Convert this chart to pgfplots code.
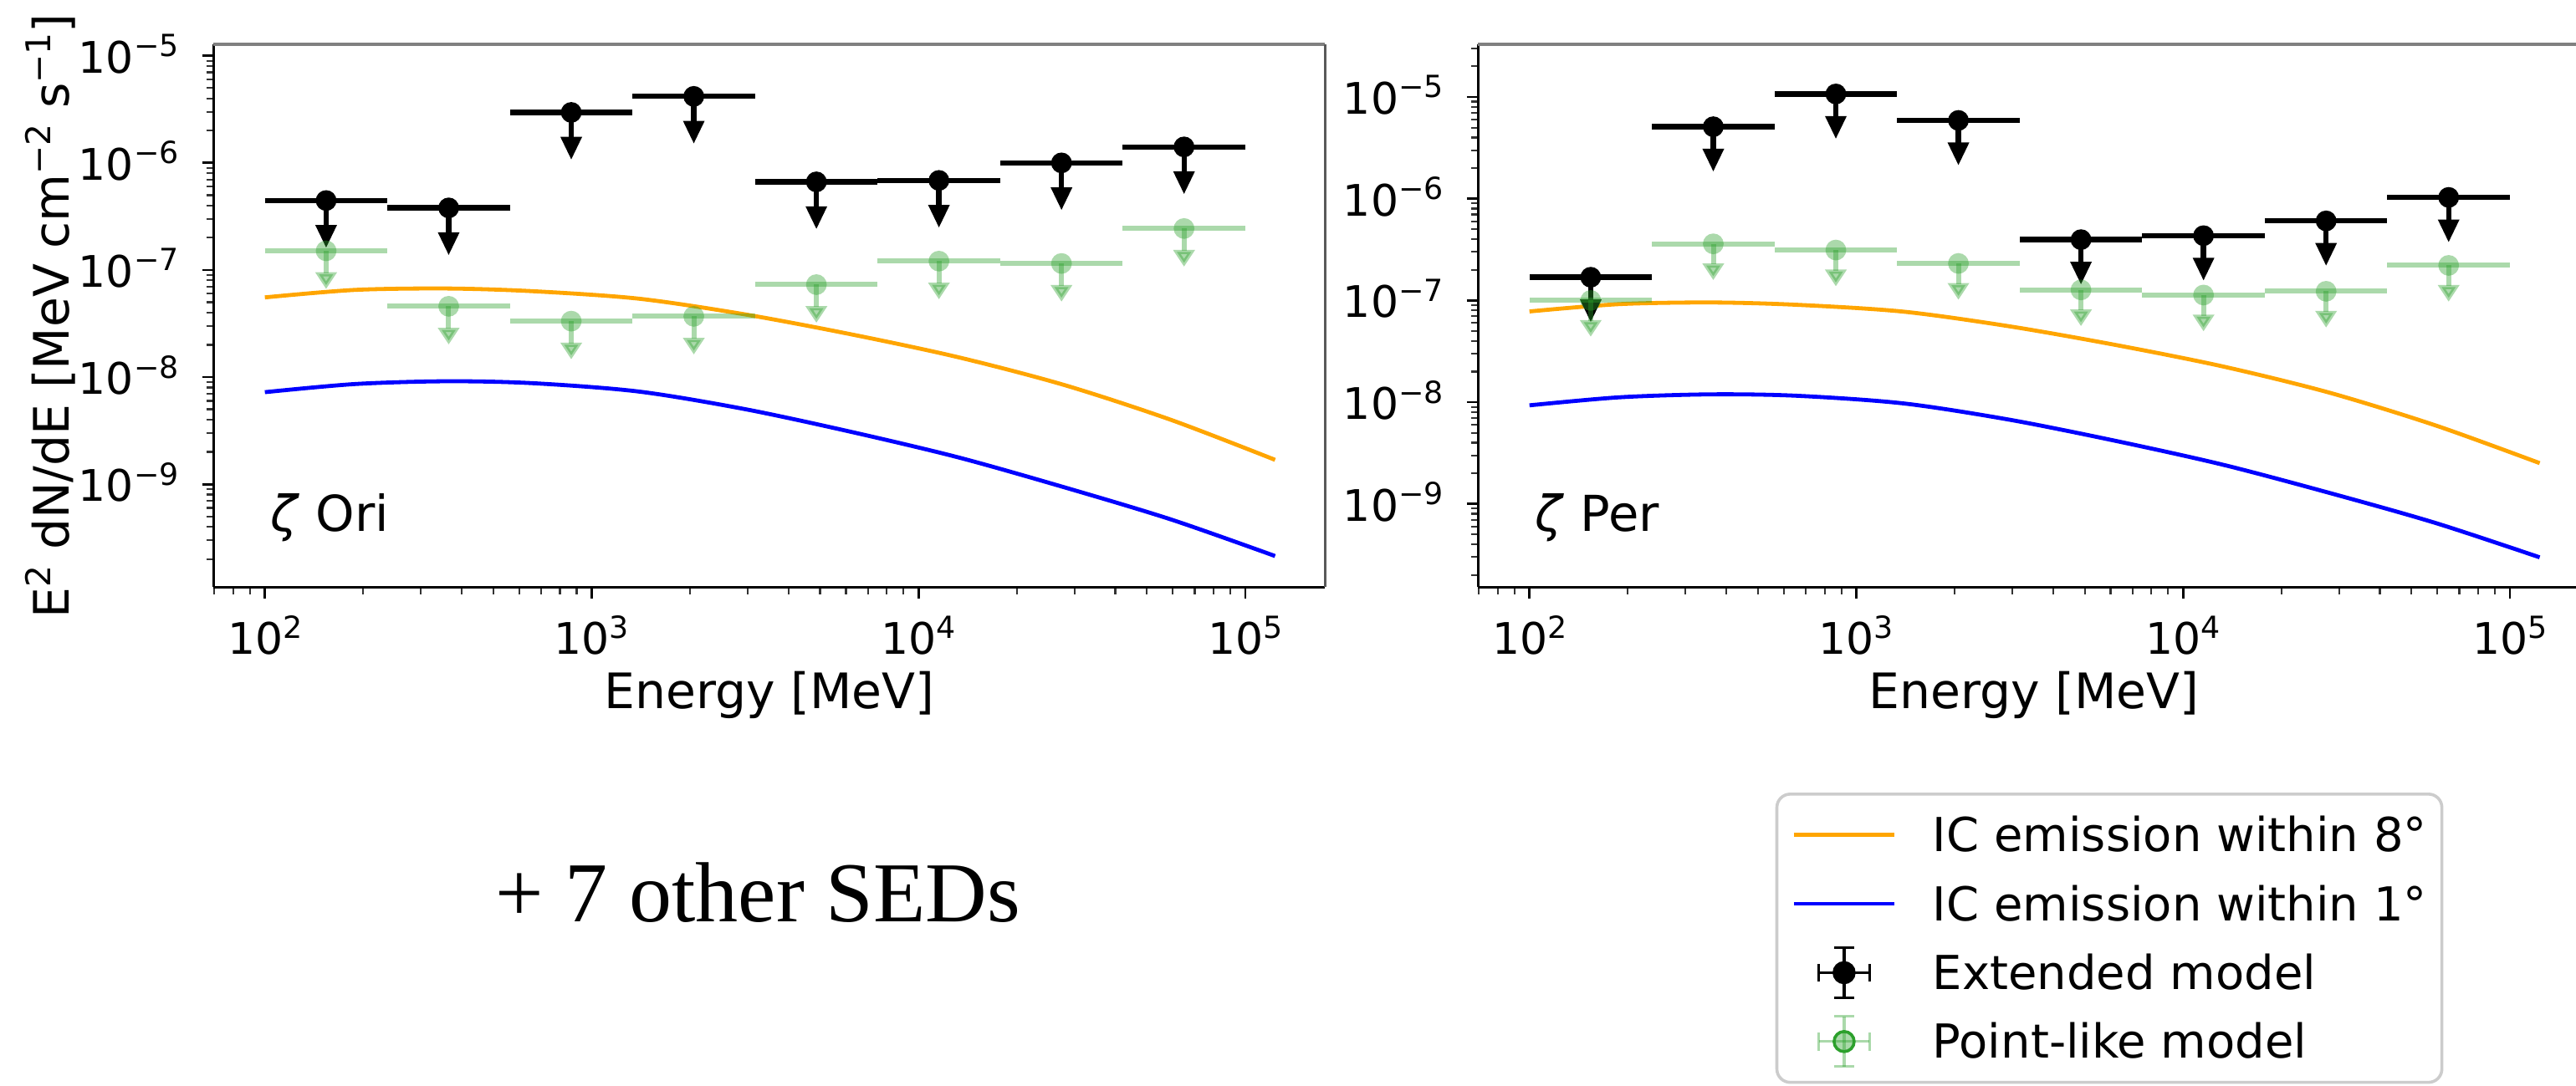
\documentclass[border=0pt]{standalone}
\usepackage{fontspec}
\setmainfont{DejaVu Sans}
\newfontfamily\serifface{Liberation Serif}
\usepackage{pgfplots}
\usepackage{pgfplotstable}
\pgfplotsset{compat=1.18}
\usetikzlibrary{arrows.meta}

\definecolor{icorange}{HTML}{FFA500}
\definecolor{icblue}{HTML}{0000FF}
\definecolor{ptgreen}{HTML}{2CA02C}

% power-of-ten tick labels and superscripts in the text font
\newcommand{\tp}[1]{10\raisebox{4.9pt}{\fontsize{9.1pt}{10pt}\selectfont #1}}
\newcommand{\su}[1]{\raisebox{5.4pt}{\fontsize{10.2pt}{11pt}\selectfont #1}}

% SED points: bin centre, distance to lower / upper bin edge, upper limits
\pgfplotstableread{
x        xm        xp        ext       pnt
153.99   53.99     83.15     4.45e-7   1.51e-7
365.17   128.03    197.17    3.80e-7   4.58e-8
865.96   303.61    467.56    2.96e-6   3.33e-8
2053.5   719.98    1108.76   4.18e-6   3.69e-8
4869.7   1707.4    2629.3    6.65e-7   7.30e-8
11548    4048.7    6235.0    6.86e-7   1.21e-7
27384    9601.2    14785.6   1.00e-6   1.15e-7
64938    22768     35062     1.41e-6   2.44e-7
}\oriSED
\pgfplotstableread{
x        xm        xp        ext       pnt
153.99   53.99     83.15     1.69e-7   1.00e-7
365.17   128.03    197.17    5.10e-6   3.60e-7
865.96   303.61    467.56    1.07e-5   3.13e-7
2053.5   719.98    1108.76   5.88e-6   2.31e-7
4869.7   1707.4    2629.3    3.96e-7   1.27e-7
11548    4048.7    6235.0    4.33e-7   1.13e-7
27384    9601.2    14785.6   6.05e-7   1.23e-7
64938    22768     35062     1.03e-6   2.21e-7
}\perSED

% IC model curves (within 8 deg and within 1 deg)
\pgfplotstableread{
E        ic8        ic1
100      5.546e-8   7.228e-9
188.8    6.516e-8   8.610e-9
361.4    6.714e-8   9.141e-9
659.2    6.339e-8   8.770e-9
1393     5.395e-8   7.328e-9
2951     3.846e-8   5.012e-9
6252     2.500e-8   3.069e-9
13243    1.531e-8   1.778e-9
27990    8.414e-9   9.333e-10
59293    3.981e-9   4.677e-10
123310   1.687e-9   2.133e-10
}\oriIC
\pgfplotstableread{
E        ic8        ic1
100      7.798e-8   9.311e-9
188.8    9.204e-8   1.117e-8
361.4    9.550e-8   1.194e-8
659.2    9.057e-8   1.156e-8
1393     7.762e-8   9.727e-9
2951     5.559e-8   6.714e-9
6252     3.639e-8   4.150e-9
13243    2.244e-8   2.427e-9
27990    1.242e-8   1.285e-9
59293    5.902e-9   6.486e-10
123310   2.518e-9   2.985e-10
}\perIC

% invisible carrier marks for plots that only draw error bars
\pgfplotsset{barsonly/.style={only marks, mark=*, forget plot,
  mark options={draw opacity=0, fill opacity=0}}}

% one SED panel: curves, upper limits with bin widths, star label
\newcommand{\sedpanel}[3]{%
  \addplot[icorange, line width=1.2pt, smooth] table[x=E, y=ic8] {#2};
  \addplot[icblue, line width=1.2pt, smooth] table[x=E, y=ic1] {#2};
  % extended model
  \addplot[black, barsonly,
    error bars/y dir=minus, error bars/y fixed relative=0.64, error bars/error mark=none,
    error bars/error bar style={black, line width=1.6pt, -{Triangle[length=6.9pt, width=6pt]}}]
    table[x=x, y=ext] {#1};
  \addplot[black, barsonly,
    error bars/x dir=both, error bars/x explicit, error bars/error mark=none,
    error bars/error bar style={black, line width=1.6pt}]
    table[x=x, y=ext, x error minus=xm, x error plus=xp] {#1};
  \addplot[only marks, mark=*, mark size=3.1pt, black,
    mark options={draw opacity=0},
    legend image code/.code={
      \draw[black, line width=0.8pt] (7.4pt,0pt) -- (22.6pt,0pt)
        (7.4pt,-2.7pt) -- (7.4pt,2.7pt) (22.6pt,-2.7pt) -- (22.6pt,2.7pt)
        (15pt,-7.5pt) -- (15pt,7.5pt)
        (12.1pt,-7.5pt) -- (17.9pt,-7.5pt) (12.1pt,7.5pt) -- (17.9pt,7.5pt);
      \fill[black] (15pt,0pt) circle (3pt);
      \path[draw=none, fill=none] (0pt,-8pt) rectangle (41.5pt,8pt);}]
    table[x=x, y=ext] {#1};
  % point-like model
  \addplot[ptgreen, barsonly,
    error bars/y dir=minus, error bars/y fixed relative=0.56, error bars/error mark=none,
    error bars/error bar style={ptgreen, draw opacity=0.4, fill opacity=0.4, line width=1.5pt,
      -{Triangle[length=5pt, width=6.2pt]}}]
    table[x=x, y=pnt] {#1};
  \addplot[ptgreen, barsonly,
    error bars/x dir=both, error bars/x explicit, error bars/error mark=none,
    error bars/error bar style={ptgreen, draw opacity=0.4, line width=1.5pt}]
    table[x=x, y=pnt, x error minus=xm, x error plus=xp] {#1};
  \addplot[only marks, mark=*, mark size=3.1pt, ptgreen,
    mark options={draw opacity=0, fill opacity=0.4},
    legend image code/.code={
      \draw[ptgreen, draw opacity=0.4, line width=0.8pt] (7.4pt,0pt) -- (22.6pt,0pt);
      \draw[ptgreen, draw opacity=0.4, line width=0.8pt] (15pt,-7.5pt) -- (15pt,7.5pt);
      \draw[ptgreen, draw opacity=0.4, line width=0.8pt] (7.4pt,-2.7pt) -- (7.4pt,2.7pt);
      \draw[ptgreen, draw opacity=0.4, line width=0.8pt] (22.6pt,-2.7pt) -- (22.6pt,2.7pt);
      \draw[ptgreen, draw opacity=0.4, line width=0.8pt] (12.1pt,-7.5pt) -- (17.9pt,-7.5pt);
      \draw[ptgreen, draw opacity=0.4, line width=0.8pt] (12.1pt,7.5pt) -- (17.9pt,7.5pt);
      \fill[ptgreen, fill opacity=0.4] (15pt,0pt) circle (3pt);
      \path[draw=none, fill=none] (0pt,-8pt) rectangle (41.5pt,8pt);}]
    table[x=x, y=pnt] {#1};
  % top and right frame
  \draw[black!50, line width=1pt] (rel axis cs:0,1) -- (rel axis cs:1,1);
  \draw[black!65, line width=0.9pt] (rel axis cs:1,1) -- (rel axis cs:1,0);
  \node[anchor=base west, inner sep=0pt, font=\fontsize{14.8pt}{17pt}\selectfont]
    at (rel axis cs:0.051,0.1037) {\textit{ζ} #3};
}

\pgfplotsset{
  every axis/.append style={
    scale only axis, width=332.25pt, height=162.25pt,
    xmin=69.66, xmax=1.754e5,
    axis x line*=bottom, axis y line*=left,
    axis line style={line width=0.8pt, black},
    tick align=outside,
    major tick length=3.4pt, minor tick length=2.1pt,
    tick style={black, line width=0.7pt},
    minor tick style={black!80, line width=0.55pt},
    xtick={100,1000,10000,100000},
    xticklabels={\tp{2},\tp{3},\tp{4},\tp{5}},
    minor xtick={70,80,90,200,300,400,500,600,700,800,900,
      2000,3000,4000,5000,6000,7000,8000,9000,
      20000,30000,40000,50000,60000,70000,80000,90000},
    ytick={1e-9,1e-8,1e-7,1e-6,1e-5},
    yticklabels={\tp{−9},\tp{−8},\tp{−7},\tp{−6},\tp{−5}},
    minor ytick={2e-10,3e-10,4e-10,5e-10,6e-10,7e-10,8e-10,9e-10,
      2e-9,3e-9,4e-9,5e-9,6e-9,7e-9,8e-9,9e-9,
      2e-8,3e-8,4e-8,5e-8,6e-8,7e-8,8e-8,9e-8,
      2e-7,3e-7,4e-7,5e-7,6e-7,7e-7,8e-7,9e-7,
      2e-6,3e-6,4e-6,5e-6,6e-6,7e-6,8e-6,9e-6,
      2e-5,3e-5},
    tick label style={font=\fontsize{13pt}{15pt}\selectfont},
    xticklabel style={anchor=base, yshift=-16.75pt},
    yticklabel style={anchor=base east, inner sep=0pt, xshift=-6.8pt, yshift=-5.15pt},
    xlabel={Energy [MeV]},
    xlabel style={at={(axis description cs:0.5,-0.223)}, anchor=base,
      font=\fontsize{14.6pt}{17pt}\selectfont},
    clip=false,
  },
}

\begin{document}
\begin{tikzpicture}
\useasboundingbox (0,0) rectangle (770pt,324.5pt);
\clip (0,0) rectangle (770pt,324.5pt);

\begin{loglogaxis}[at={(63.825pt,148.925pt)}, anchor=south west,
    ymin=1.092e-10, ymax=1.273e-5]
  \sedpanel{\oriSED}{\oriIC}{Ori}
  \node[rotate=90, anchor=base, inner sep=0pt, font=\fontsize{14.6pt}{17pt}\selectfont]
    at (rel axis cs:-0.1304,0.5) {E\su{2} dN/dE [MeV cm\su{−2} s\su{−1}]};
\end{loglogaxis}

\begin{loglogaxis}[at={(441.825pt,148.925pt)}, anchor=south west,
    ymin=1.52e-10, ymax=3.273e-5,
    legend cell align=left,
    legend image code/.code={
      \draw[#1] (0pt,0pt) -- (30pt,0pt);
      \path[draw=none, fill=none] (0pt,-8pt) rectangle (41.5pt,8pt);},
    legend style={at={(axis description cs:0.2674,-0.3786)}, anchor=north west,
      draw=black!20, line width=0.9pt, rounded corners=4pt, fill=white,
      inner xsep=4.5pt, inner ysep=4.2pt, row sep=4.6pt, /tikz/column sep=0pt,
      font=\fontsize{14pt}{16pt}\selectfont,
      nodes={inner sep=0pt, text height=13pt, text depth=3pt}}]
  \sedpanel{\perSED}{\perIC}{Per}
  \legend{IC emission within 8°, IC emission within 1°, Extended model, Point-like model}
\end{loglogaxis}

\node[anchor=base, inner sep=0pt, font=\serifface\fontsize{25.5pt}{30pt}\selectfont]
  at (226.6pt,49pt) {+ 7 other SEDs};
\end{tikzpicture}
\end{document}
